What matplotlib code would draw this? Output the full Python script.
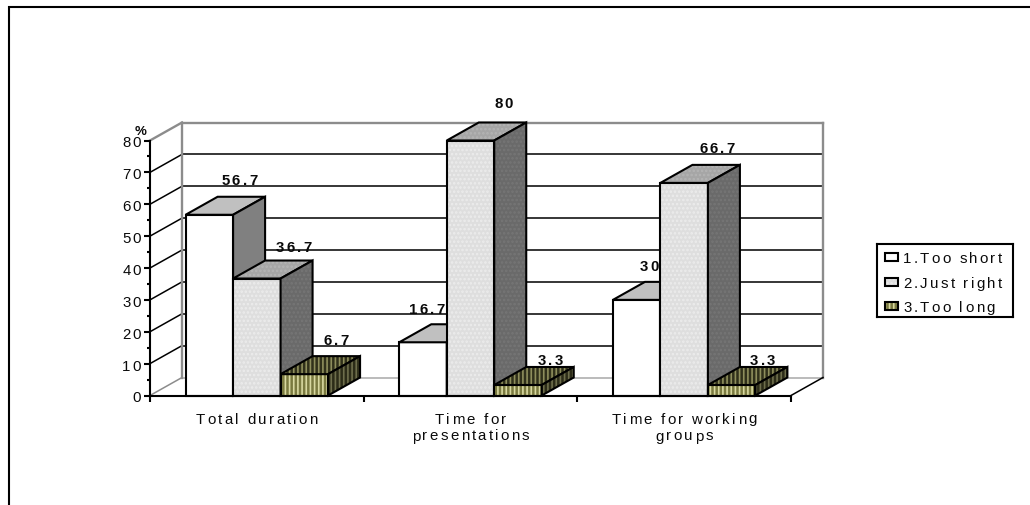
import numpy as np

import matplotlib
matplotlib.use('Agg')
import matplotlib.pyplot as plt
from matplotlib.font_manager import findfont, get_font
from matplotlib.ft2font import LoadFlags
from matplotlib.lines import Line2D
from matplotlib.patches import Polygon, Rectangle
from matplotlib.text import Text
from matplotlib.transforms import Affine2D, Bbox, IdentityTransform

categories = ['Total duration', 'Time for\npresentations', 'Time for working\ngroups']
series_names = ['1.Too short', '2.Just right', '3.Too long']
too_short = [56.7, 16.7, 30]
just_right = [36.7, 80, 66.7]
too_long = [6.7, 3.3, 3.3]
y_major = [0, 10, 20, 30, 40, 50, 60, 70, 80]
y_minor = [5, 15, 25, 35, 45, 55, 65, 75]

# SIZE (pixels at dpi=100)
W, H = 1030, 506
AX_LEFT, AX_RIGHT, AX_TOP, AX_BOTTOM = 150, 791, 141.5, 396.5
FONT_PT = 10.8
TRACKING = 2.3
LW_THICK = 1.5
LW_WALL = 1.7
LW_GRID = 1.1
TEXT_COLOR = '#0a0a0a'

# fake 3d: how far the back wall sits behind the front plane (data units)
DEPTH_X = 32 / ((AX_RIGHT - AX_LEFT) / 3)
DEPTH_Y = 18 / ((AX_BOTTOM - AX_TOP) / 80)
BAR_W = 1 / 4.5
GROUP_PAD = (1 - 3 * BAR_W) / 2

# front, top and side colours as (face, hatch colour)
styles = [
    {'front': ('white', 'white'), 'top': ('#c0c0c0', '#c0c0c0'), 'side': ('#808080', '#808080'), 'hatch': None},
    {'front': ('#dedede', '#ececec'), 'top': ('#a6a6a6', '#b4b4b4'), 'side': ('#6a6a6a', '#767676'), 'hatch': '....'},
    {'front': ('#7a7a40', '#d8d8a0'), 'top': ('#30301a', '#8e8e5c'), 'side': ('#2c2c18', '#6e6e4c'), 'hatch': '||||'},
]

# label offsets from the centre of each bar's top edge, pixels
label_nudge = [
    [(30, 31), (4, 29), (13, 30)],
    [(37, 28), (33, 33), (33, 31)],
    [(32, 30), (32, 21), (31, 21)],
]


class SpacedText(Text):
    '''Text with extra tracking between the letters, centre/left/right aligned per line.'''

    def __init__(self, *args, spacing=TRACKING, **kwargs):
        super().__init__(*args, **kwargs)
        self.spacing = spacing

    def _glyphs(self):
        font = get_font(findfont(self.get_fontproperties()))
        font.set_size(self.get_fontsize(), self.get_figure().dpi)
        x0, y0 = self.get_transform().transform(self.get_position())
        glyphs = []
        for row, line in enumerate(self.get_text().split('\n')):
            adv = [font.load_char(ord(c), flags=LoadFlags.NO_HINTING).linearHoriAdvance / 65536 for c in line]
            width = sum(adv) + self.spacing * (len(line) - 1)
            shift = {'left': 0, 'center': -width / 2, 'right': -width}[self.get_horizontalalignment()]
            x = x0 + shift
            for c, a in zip(line, adv):
                glyphs.append((c, x, y0 - row * 17, a))
                x += a + self.spacing
        return glyphs

    def draw(self, renderer):
        for c, x, y, a in self._glyphs():
            if c == ' ':
                continue
            t = Text(x, y, c, fontproperties=self.get_fontproperties(), color=self.get_color(),
                     ha='left', va='baseline', transform=IdentityTransform())
            t.set_figure(self.get_figure())
            t.draw(renderer)

    def get_window_extent(self, renderer=None, dpi=None):
        glyphs = self._glyphs()
        xs = [g[1] for g in glyphs] + [g[1] + g[3] for g in glyphs]
        ys = [g[2] for g in glyphs]
        size = self.get_fontsize() * self.get_figure().dpi / 72
        descent = 0.2 if any(c in 'gjpqy' for c in self.get_text()) else 0.03
        return Bbox([[min(xs), min(ys) - descent * size], [max(xs), max(ys) + 0.72 * size]])


plt.rcParams['font.family'] = ['Liberation Sans', 'DejaVu Sans']
plt.rcParams['hatch.linewidth'] = 1.2

fig = plt.figure(figsize=(W / 100, H / 100), dpi=100, facecolor='white')
ax = fig.add_axes([AX_LEFT / W, 1 - AX_BOTTOM / H, (AX_RIGHT - AX_LEFT) / W, (AX_BOTTOM - AX_TOP) / H])
ax.set_xlim(0, 3)
ax.set_ylim(0, 80)
ax.patch.set_visible(False)

# outer frame, only top and left edges
fig.add_artist(Line2D([9 / W, 9 / W, 1], [0, 1 - 8 / H, 1 - 8 / H], color='black', lw=1.5, solid_joinstyle='miter'))

# back wall and left wall
GRAY = '#8c8c8c'
for y in y_major:
    c = GRAY if y in (0, 80) else 'black'
    ax.plot([0, DEPTH_X], [y, y + DEPTH_Y], color=c, lw=LW_WALL if y == 80 else LW_GRID, clip_on=False, zorder=1.2)
    ax.plot([DEPTH_X, 3 + DEPTH_X], [y + DEPTH_Y, y + DEPTH_Y], color='#a8a8a8' if y == 0 else c,
            lw=LW_WALL if y == 80 else LW_GRID, clip_on=False, zorder=1.2)
ax.plot([DEPTH_X, DEPTH_X], [DEPTH_Y, 80 + DEPTH_Y], color=GRAY, lw=LW_WALL, clip_on=False, zorder=1.3)
ax.plot([3 + DEPTH_X, 3 + DEPTH_X], [DEPTH_Y, 80 + DEPTH_Y], color=GRAY, lw=LW_WALL, clip_on=False, zorder=1.3)
ax.plot([3, 3 + DEPTH_X], [0, DEPTH_Y], color='black', lw=LW_GRID, clip_on=False, zorder=1.4)


def add_face(xs, ys, colours, hatch, z):
    ax.add_patch(Polygon(np.column_stack([xs, ys]), closed=True, facecolor=colours[0], edgecolor=colours[1],
                         hatch=hatch, lw=0, clip_on=False, zorder=z))
    ax.add_patch(Polygon(np.column_stack([xs, ys]), closed=True, fill=False, edgecolor='black',
                         lw=LW_THICK, joinstyle='miter', clip_on=False, zorder=z + 0.01))


# bars, painted left to right so nearer faces cover earlier ones
all_values = [too_short, just_right, too_long]
z = 2.0
for g in range(len(categories)):
    for s, values in enumerate(all_values):
        left = g + GROUP_PAD + s * BAR_W
        v = values[g]
        st = styles[s]
        right = left + BAR_W
        ax.bar(left, v, width=BAR_W, align='edge', color=st['front'][0], edgecolor=st['front'][1],
               hatch=st['hatch'], lw=0, clip_on=False, zorder=z)
        ax.bar(left, v, width=BAR_W, align='edge', fill=False, edgecolor='black', lw=LW_THICK, clip_on=False, zorder=z + 0.01)
        add_face([left, right, right + DEPTH_X, left + DEPTH_X], [v, v, v + DEPTH_Y, v + DEPTH_Y], st['top'], st['hatch'], z + 0.02)
        add_face([right, right + DEPTH_X, right + DEPTH_X, right], [0, DEPTH_Y, v + DEPTH_Y, v], st['side'], st['hatch'], z + 0.04)
        z += 0.1

# axes
for name in ('top', 'right'):
    ax.spines[name].set_visible(False)
for name in ('left', 'bottom'):
    ax.spines[name].set_linewidth(LW_THICK)
    ax.spines[name].set_zorder(6)
ax.set_xticks([0, 1, 2, 3])
ax.set_yticks(y_major)
ax.set_yticks(y_minor, minor=True)
ax.tick_params(axis='both', which='major', length=4.5, width=LW_THICK, labelleft=False, labelbottom=False, zorder=6)
ax.tick_params(axis='y', which='minor', length=2.5, width=LW_THICK)

for y in y_major:
    trans = ax.transData + Affine2D().translate(0, -6)
    ax.add_artist(SpacedText(-0.0415, y, str(y), fontsize=FONT_PT, ha='right', va='baseline', transform=trans, color=TEXT_COLOR, zorder=7))
ax.add_artist(SpacedText(-0.0435, 80, '%', fontsize=9.5, fontweight='bold', spacing=0, ha='center', va='baseline',
                         transform=ax.transData + Affine2D().translate(0, 6.5), color=TEXT_COLOR, zorder=7))

for g, name in enumerate(categories):
    trans = ax.transData + Affine2D().translate(0, -27)
    ax.add_artist(SpacedText(g + 0.5, 0, name, fontsize=FONT_PT, ha='center', va='baseline', transform=trans, color=TEXT_COLOR, zorder=7))

# value labels
for s, values in enumerate(all_values):
    for g, v in enumerate(values):
        cx = g + GROUP_PAD + (s + 0.5) * BAR_W
        dx, dy = label_nudge[s][g]
        trans = ax.transData + Affine2D().translate(dx, dy)
        ax.add_artist(SpacedText(cx, v, str(v), fontsize=FONT_PT, fontweight='bold', ha='center', va='baseline',
                                 transform=trans, color=TEXT_COLOR, zorder=7))

# legend box, axes in pixel units
box = (877, 245, 1013, 318)
leg = fig.add_axes([box[0] / W, 1 - box[3] / H, (box[2] - box[0]) / W, (box[3] - box[1]) / H])
leg.set_xlim(box[0], box[2])
leg.set_ylim(box[3], box[1])
leg.set_xticks([])
leg.set_yticks([])
for sp in leg.spines.values():
    sp.set_linewidth(LW_THICK)
for s, name in enumerate(series_names):
    row_y = 258 + s * 24.5
    leg.add_patch(Rectangle((885, row_y - 4), 13, 8, facecolor=styles[s]['front'][0], edgecolor=styles[s]['front'][1],
                            hatch=styles[s]['hatch'], lw=0))
    leg.add_patch(Rectangle((885, row_y - 4), 13, 8, fill=False, edgecolor='black', lw=LW_THICK))
    leg.add_artist(SpacedText(903, row_y + 5, name, fontsize=FONT_PT, ha='left', va='baseline', transform=leg.transData, color=TEXT_COLOR))

fig.savefig('out.png', dpi=100)
